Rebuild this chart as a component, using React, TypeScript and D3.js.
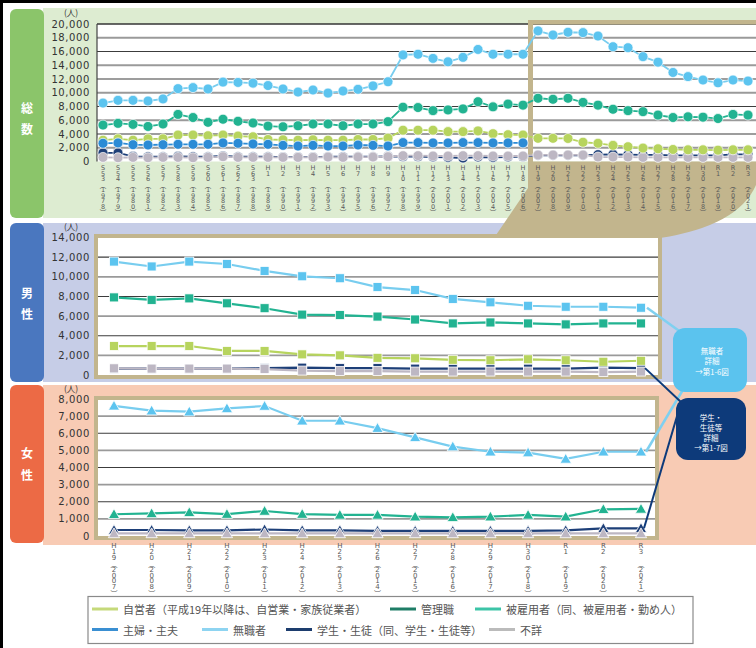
import React from "react";
import * as d3 from "d3";

// ---------- categories / tick labels ----------
const topEras = ["S53","S54","S55","S56","S57","S58","S59","S60","S61","S62","S63","H1","H2","H3","H4","H5","H6","H7","H8","H9","H10","H11","H12","H13","H14","H15","H16","H17","H18","H19","H20","H21","H22","H23","H24","H25","H26","H27","H28","H29","H30","R1","R2","R3"];
const topYears = [1978,1979,1980,1981,1982,1983,1984,1985,1986,1987,1988,1989,1990,1991,1992,1993,1994,1995,1996,1997,1998,1999,2000,2001,2002,2003,2004,2005,2006,2007,2008,2009,2010,2011,2012,2013,2014,2015,2016,2017,2018,2019,2020,2021];
const detailEras = ["H19","H20","H21","H22","H23","H24","H25","H26","H27","H28","H29","H30","R1","R2","R3"];
const detailYears = [2007,2008,2009,2010,2011,2012,2013,2014,2015,2016,2017,2018,2019,2020,2021];

const topTicks = [0,2000,4000,6000,8000,10000,12000,14000,16000,18000,20000];
const maleTicks = [0,2000,4000,6000,8000,10000,12000,14000];
const femaleTicks = [0,1000,2000,3000,4000,5000,6000,7000,8000];

// ---------- 総数 (1978-2021) ----------
const totalUnemployed = [8500,8900,8900,8800,9100,10600,10750,10550,11550,11500,11400,11050,10550,10100,10400,9950,10250,10500,11000,11600,15500,15600,15000,14500,15150,16300,15600,15600,15600,19000,18400,18800,18750,18250,16700,16550,15250,14450,12950,12350,11850,11450,11850,11700];
const totalEmployed = [5300,5550,5400,5100,5450,6850,6400,5700,6150,5850,5600,5150,5050,5200,5450,5450,5200,5450,5450,5800,7900,7850,7400,7500,7650,8700,7950,8350,8200,9200,9050,9200,8600,8200,7600,7400,7250,6750,6400,6500,6450,6250,6850,6750];
const totalSelfEmployed = [3100,3300,3100,3300,3300,3850,3850,3750,3850,3700,3600,3200,3150,3100,3150,3100,3100,3200,3200,3400,4550,4550,4550,4350,4350,4450,4050,3900,3850,3370,3370,3350,2800,2650,2350,2150,1950,1850,1750,1700,1700,1650,1700,1700];
const totalHousewife = [2650,2700,2450,2400,2450,2500,2500,2500,2700,2650,2550,2500,2350,2250,2350,2250,2250,2400,2350,2250,2750,2750,2700,2700,2750,2750,2700,2700,2700];
const totalStudent = [1250,1250,750,700,700,750,700,700,800,700,700,700,650,650,650,700,700,700,700,750,700,700,650,600,500,650,600,650,700,900,900,900,900,1000,1050,1000,950,950,900,900,900,900,1050,1050];
const totalUnknown = [600,550,600,550,600,600,550,600,700,600,600,600,600,600,600,650,600,650,650,700,850,850,800,800,850,850,800,800,800,950,950,950,950,650,650,650,600,600,600,600,600,600,600,600];

// ---------- 男性 (2007-2021) ----------
const maleUnemployed = [11550,11050,11550,11300,10600,10050,9850,8950,8650,7750,7400,7050,6950,6950,6850];
const maleEmployed = [7900,7650,7800,7300,6800,6150,6100,5950,5650,5250,5350,5250,5150,5250,5250];
const maleSelfEmployed = [2950,2950,2950,2450,2450,2100,2000,1750,1700,1550,1500,1600,1500,1350,1450];
const maleStudent = [650,650,650,650,700,750,700,700,650,650,650,650,650,750,700];
const maleUnknown = [680,650,650,650,600,450,400,400,350,350,350,350,350,300,350];

// ---------- 女性 (2007-2021) ----------
const femaleUnemployed = [7600,7320,7260,7450,7590,6730,6730,6300,5760,5220,4920,4870,4500,4920,4920];
const femaleEmployed = [1270,1320,1380,1280,1460,1280,1230,1230,1130,1090,1130,1230,1130,1560,1580];
const femaleStudent = [350,350,330,330,380,330,330,300,300,300,300,300,330,450,450];
const femaleUnknown = [150,150,150,150,150,150,150,150,150,150,150,150,150,150,150];

// ---------- legend ----------
const legendRow1 = [
  { label: "自営者（平成19年以降は、自営業・家族従業者）", color: "#c5d97a", x: 92 },
  { label: "管理職", color: "#1e7d66", x: 390 },
  { label: "被雇用者（同、被雇用者・勤め人）", color: "#3cc4a7", x: 475 },
];
const legendRow2 = [
  { label: "主婦・主夫", color: "#3a8fd2", x: 92 },
  { label: "無職者", color: "#8ed4f1", x: 202 },
  { label: "学生・生徒（同、学生・生徒等）", color: "#1d3d6e", x: 286 },
  { label: "不詳", color: "#bbbbbb", x: 489 },
];

const COL = {
  self: "#b7d45e",
  emp: "#22b391",
  house: "#2b8bd5",
  unemp: "#5cc4ef",
  unempLine: "#78cdef",
  stud: "#1d3f78",
  unk: "#bdb7c3",
  tan: "#c2b58d",
};

const JP = "'Noto Sans CJK JP', 'Noto Sans', sans-serif";
const NUM = "'DejaVu Sans', sans-serif";

type Pt = [number, number];

function VLabel({ x, y0, step, era, year, size }: { x: number; y0: number; step: number; era: string; year: number; size: number }) {
  const chars = [...era.padEnd(3, " ").split(""), "︵", ...String(year).split(""), "︶"];
  return (
    <g>
      {chars.map((c, i) =>
        c.trim() ? (
          <text key={i} x={x} y={y0 + i * step} textAnchor="middle" dominantBaseline="central"
            fontSize={size} fontFamily={c === "︵" || c === "︶" ? JP : NUM} fill="#5a5a5a">{c}</text>
        ) : null
      )}
    </g>
  );
}

function marker(kind: string, p: Pt, color: string, key: number) {
  if (kind === "circle") return <circle key={key} cx={p[0]} cy={p[1]} r={5} fill={color} stroke="#ffffff" strokeWidth={0.7} />;
  if (kind === "square") return <rect key={key} x={p[0] - 4.5} y={p[1] - 4.5} width={9} height={9} fill={color} stroke="#ffffff" strokeWidth={0.8} />;
  const sym = d3.symbol().type(d3.symbolTriangle).size(55)();
  return <path key={key} d={sym || ""} transform={`translate(${p[0]},${p[1] + 1})`} fill={color} stroke="#ffffff" strokeWidth={0.8} />;
}

function Series({ xs, vals, x, y, color, lineColor, kind, lw }: any) {
  const pts: Pt[] = vals.map((v: number, i: number) => [x(xs[i]), y(v)]);
  const line = d3.line<Pt>().x((d) => d[0]).y((d) => d[1]);
  return (
    <g>
      <path d={line(pts) || ""} fill="none" stroke={lineColor || color} strokeWidth={lw} />
      {pts.map((p, i) => marker(kind, p, color, i))}
    </g>
  );
}

function YTicks({ ticks, y, x }: { ticks: number[]; y: any; x: number }) {
  const fmt = d3.format(",");
  return (
    <g>
      {ticks.map((t) => (
        <text key={t} x={x} y={y(t)} textAnchor="end" dominantBaseline="central" fontSize={10} letterSpacing={0.6}
          fontFamily={NUM} fill="#333">{fmt(t)}</text>
      ))}
    </g>
  );
}

function Grid({ ticks, y, x1, x2, skipTop }: { ticks: number[]; y: any; x1: number; x2: number; skipTop?: boolean }) {
  const list = ticks.filter((t) => t > 0 && (!skipTop || t < ticks[ticks.length - 1]));
  return (
    <g>
      {list.map((t, i) => (
        <line key={t} x1={x1} x2={x2} y1={y(t)} y2={y(t)}
          stroke={i % 2 === 0 ? "#9a9a9a" : "#3c3c3c"} strokeWidth={i % 2 === 0 ? 1.8 : 1.1} />
      ))}
    </g>
  );
}

export default function App() {
  const W = 756, H = 648;
  const xTop = d3.scaleLinear().domain([1978, 2021]).range([103, 748]);
  const yTop = d3.scaleLinear().domain([0, 20000]).range([161.5, 24]);
  const xDet = d3.scaleLinear().domain([2007, 2021]).range([114, 641]);
  const yMale = d3.scaleLinear().domain([0, 14000]).range([375, 237.5]);
  const yFemale = d3.scaleLinear().domain([0, 8000]).range([536, 399]);

  const hwYears = topYears.slice(0, totalHousewife.length);

  return (
    <div>
      <style>{"body{margin:0}"}</style>
      <svg width={W} height={H} viewBox={`0 0 ${W} ${H}`} style={{ display: "block", background: "#fff" }}>
        {/* ===== backgrounds ===== */}
        <rect x={43} y={8} width={713} height={210} fill="#ddecd1" />
        <rect x={10} y={9} width={34} height={209} rx={6} fill="#8bc56a" />
        <rect x={43} y={223} width={713} height={159} fill="#c6cde7" />
        <rect x={10} y={223} width={34} height={159} rx={6} fill="#4a77bf" />
        <rect x={43} y={385} width={713} height={160} fill="#f8cbb4" />
        <rect x={10} y={385} width={34} height={158} rx={6} fill="#ec6a45" />

        {[["総", 107], ["数", 128], ["男", 292], ["性", 313], ["女", 452], ["性", 474]].map(([t, yy], i) => (
          <text key={i} x={27} y={yy as number} textAnchor="middle" dominantBaseline="central" fontSize={12}
            fontWeight="bold" fontFamily={JP} fill="#ffffff">{t}</text>
        ))}

        {/* ===== top panel ===== */}
        <rect x={97} y={24} width={659} height={137.5} fill="#ffffff" />
        <Grid ticks={topTicks} y={yTop} x1={97} x2={756} />
        <line x1={97} x2={756} y1={yTop(20000)} y2={yTop(20000)} stroke="#333" strokeWidth={1} />
        <line x1={97} x2={97} y1={24} y2={161.5} stroke="#444" strokeWidth={1.2} />
        <path
          d="M528,20 H756 V185 Q738,226 660,238 L494,238 L528,188 Z M533,24.5 H756 V161.5 H533 Z"
          fill={COL.tan} fillRule="evenodd" />
        <YTicks ticks={topTicks} y={yTop} x={90} />
        <text x={71} y={12} textAnchor="middle" dominantBaseline="central" fontSize={8.5} fontFamily={JP} fill="#333">(人)</text>

        <Series xs={topYears} vals={totalStudent} x={xTop} y={yTop} color={COL.stud} kind="circle" lw={1.8} />
        <Series xs={topYears} vals={totalUnknown} x={xTop} y={yTop} color={COL.unk} kind="circle" lw={1.8} />
        <Series xs={topYears} vals={totalSelfEmployed} x={xTop} y={yTop} color={COL.self} kind="circle" lw={1.8} />
        <Series xs={hwYears} vals={totalHousewife} x={xTop} y={yTop} color={COL.house} kind="circle" lw={1.8} />
        <Series xs={topYears} vals={totalEmployed} x={xTop} y={yTop} color={COL.emp} kind="circle" lw={1.8} />
        <Series xs={topYears} vals={totalUnemployed} x={xTop} y={yTop} color={COL.unemp} lineColor={COL.unempLine} kind="circle" lw={1.8} />

        {topYears.map((yr, i) => (
          <VLabel key={yr} x={xTop(yr)} y0={168} step={5.55} era={topEras[i]} year={yr} size={6.5} />
        ))}

        {/* ===== male panel ===== */}
        <rect x={96} y={236} width={564} height={141} fill="#ffffff" stroke={COL.tan} strokeWidth={4} />
        <Grid ticks={maleTicks} y={yMale} x1={98} x2={658} skipTop />
        <YTicks ticks={maleTicks} y={yMale} x={90} />
        <text x={71} y={226} textAnchor="middle" dominantBaseline="central" fontSize={8.5} fontFamily={JP} fill="#333">(人)</text>
        <Series xs={detailYears} vals={maleStudent} x={xDet} y={yMale} color={COL.stud} kind="square" lw={2.2} />
        <Series xs={detailYears} vals={maleUnknown} x={xDet} y={yMale} color={COL.unk} kind="square" lw={2.2} />
        <Series xs={detailYears} vals={maleSelfEmployed} x={xDet} y={yMale} color={COL.self} kind="square" lw={2.2} />
        <Series xs={detailYears} vals={maleEmployed} x={xDet} y={yMale} color={COL.emp} kind="square" lw={2.2} />
        <Series xs={detailYears} vals={maleUnemployed} x={xDet} y={yMale} color={COL.unemp} lineColor={COL.unempLine} kind="square" lw={2.2} />

        {/* ===== female panel ===== */}
        <rect x={96} y={398} width={561} height={140} fill="#ffffff" stroke={COL.tan} strokeWidth={4} />
        <Grid ticks={femaleTicks} y={yFemale} x1={98} x2={655} skipTop />
        <YTicks ticks={femaleTicks} y={yFemale} x={90} />
        <text x={71} y={387.5} textAnchor="middle" dominantBaseline="central" fontSize={8.5} fontFamily={JP} fill="#333">(人)</text>
        <Series xs={detailYears} vals={femaleStudent} x={xDet} y={yFemale} color={COL.stud} kind="triangle" lw={2.2} />
        <Series xs={detailYears} vals={femaleUnknown} x={xDet} y={yFemale} color={COL.unk} kind="triangle" lw={2.2} />
        <Series xs={detailYears} vals={femaleEmployed} x={xDet} y={yFemale} color={COL.emp} kind="triangle" lw={2.2} />
        <Series xs={detailYears} vals={femaleUnemployed} x={xDet} y={yFemale} color={COL.unemp} lineColor={COL.unempLine} kind="triangle" lw={2.2} />

        {detailYears.map((yr, i) => (
          <VLabel key={yr} x={xDet(yr)} y0={546} step={5.9} era={detailEras[i]} year={yr} size={7} />
        ))}

        {/* ===== callouts ===== */}
        <line x1={xDet(2021) + 6} y1={yMale(maleUnemployed[14])} x2={682} y2={333} stroke="#7fd0f0" strokeWidth={2.5} />
        <line x1={xDet(2021) + 5} y1={yFemale(femaleUnemployed[14])} x2={684} y2={388} stroke="#7fd0f0" strokeWidth={2.5} />
        <line x1={xDet(2021) + 4} y1={yMale(maleStudent[14])} x2={682} y2={403} stroke="#0d3a7a" strokeWidth={2} />
        <line x1={xDet(2021) + 3} y1={yFemale(femaleStudent[14])} x2={680} y2={406} stroke="#0d3a7a" strokeWidth={2} />
        <rect x={673} y={328} width={74} height={64} rx={12} fill="#5bc3ee" />
        {["無職者", "詳細", "→第1-6図"].map((t, i) => (
          <text key={t} x={712} y={350 + i * 10.5} textAnchor="middle" dominantBaseline="central" fontSize={7.5} fontFamily={JP} fill="#ffffff">{t}</text>
        ))}
        <rect x={676} y={398} width={70} height={62} rx={12} fill="#0d3a7a" />
        {["学生・", "生徒等", "詳細", "→第1-7図"].map((t, i) => (
          <text key={t} x={711} y={417 + i * 10} textAnchor="middle" dominantBaseline="central" fontSize={7.5} fontFamily={JP} fill="#ffffff">{t}</text>
        ))}

        {/* ===== legend ===== */}
        <rect x={88} y={596.5} width={605} height={47} fill="#ffffff" stroke="#8a8a8a" strokeWidth={1.2} />
        {[legendRow1, legendRow2].map((row, ri) =>
          row.map((it) => (
            <g key={it.label}>
              <line x1={it.x} x2={it.x + 26} y1={609 + ri * 20.5} y2={609 + ri * 20.5} stroke={it.color} strokeWidth={3} />
              <text x={it.x + 31} y={609 + ri * 20.5} dominantBaseline="central" fontSize={11} fontFamily={JP} fill="#555">{it.label}</text>
            </g>
          ))
        )}

        <rect x={0} y={0} width={W} height={3} fill="#000" />
        <rect x={0} y={0} width={3} height={H} fill="#000" />
      </svg>
    </div>
  );
}
